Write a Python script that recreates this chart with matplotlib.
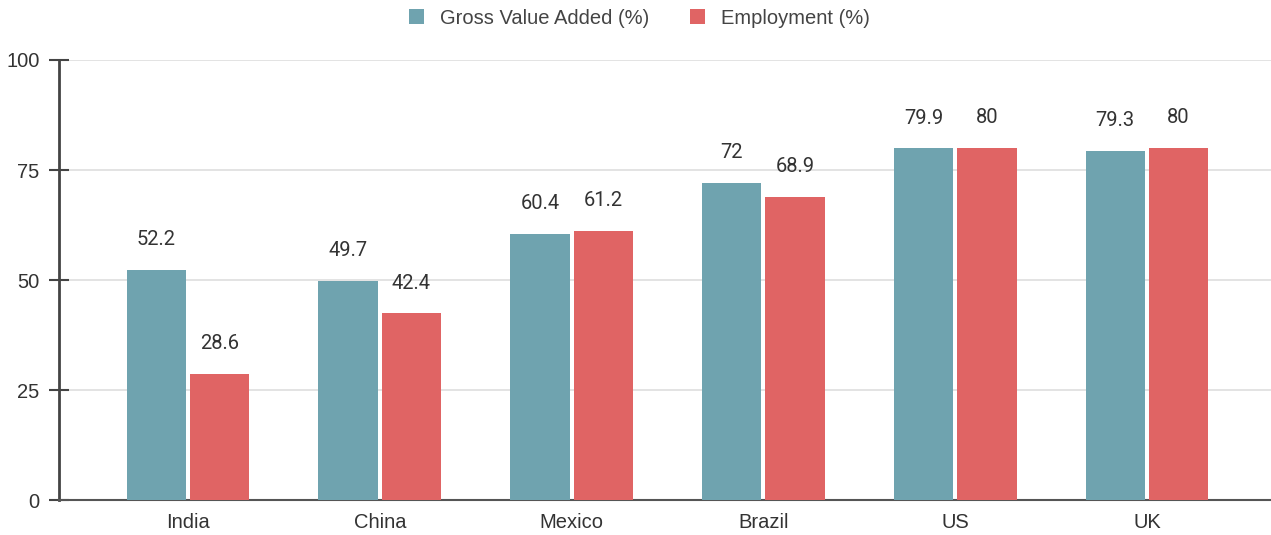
import matplotlib.pyplot as plt
import numpy as np

plt.rcParams['font.family'] = ['Liberation Sans', 'DejaVu Sans']

# data
countries = ["India", "China", "Mexico", "Brazil", "US", "UK"]
gva = [52.2, 49.7, 60.4, 72, 79.9, 79.3]
employment = [28.6, 42.4, 61.2, 68.9, 80, 80]
labels_gva = ["52.2", "49.7", "60.4", "72", "79.9", "79.3"]
labels_emp = ["28.6", "42.4", "61.2", "68.9", "80", "80"]

c_gva = "#6fa3af"
c_emp = "#e06464"

fig = plt.figure(figsize=(12.71, 5.35), dpi=100)
ax = fig.add_axes([59/1271, 35/535, 1 - 59/1271, 440/535])

x = np.arange(len(countries))
w = 0.31
off = 0.165
ax.bar(x - off, gva, w, color=c_gva, label="Gross Value Added (%)", zorder=3)
ax.bar(x + off, employment, w, color=c_emp, label="Employment (%)", zorder=3)

for i in range(len(countries)):
    ax.text(x[i] - off, gva[i] + 6.9, labels_gva[i], ha="center", va="center",
            fontsize=14.5, color="#333333", family="Roboto")
    ax.text(x[i] + off, employment[i] + 6.9, labels_emp[i], ha="center", va="center",
            fontsize=14.5, color="#333333", family="Roboto")

ax.set_ylim(0, 100)
ax.set_xlim(-0.673, 5.647)
ax.set_yticks([0, 25, 50, 75, 100])
ax.set_xticks(x)
ax.set_xticklabels(countries)
ax.grid(axis="y", color="#e0e0e0", linewidth=1.3, zorder=0)

for s in ["top", "right"]:
    ax.spines[s].set_visible(False)
ax.spines["left"].set_color("#444444")
ax.spines["left"].set_linewidth(2)
ax.spines["bottom"].set_color("#555555")
ax.spines["bottom"].set_linewidth(1.5)
ax.tick_params(axis="y", direction="inout", length=14, width=1.5, color="#444444",
               labelsize=14.5, labelcolor="#333333", pad=7)
ax.tick_params(axis="x", length=0, labelsize=14.5, labelcolor="#333333", pad=9)

ax.legend(loc="center", bbox_to_anchor=(0.479, 1.095),
          ncol=2, frameon=False, fontsize=14.5, handlelength=0.75, handleheight=0.75,
          columnspacing=2.0, handletextpad=0.8, labelcolor="#444444")

fig.savefig("out.png", dpi=100)
